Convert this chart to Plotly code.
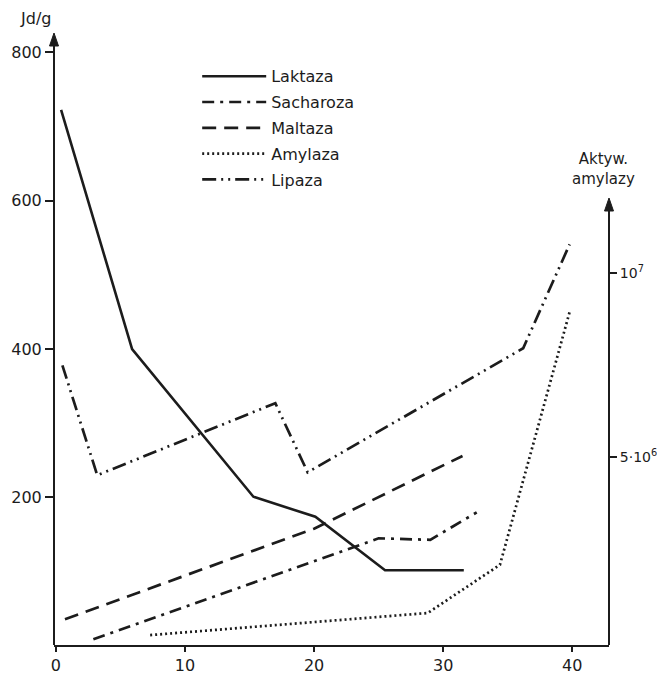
import plotly.graph_objects as go

# ---- data ----
lak_x = [0.4, 5.9, 15.3, 20.1, 25.5, 31.6]
lak_y = [722, 400, 201, 174, 102, 102]

sach_x = [2.9, 25.0, 29.0, 32.6]
sach_y = [9, 145, 143, 180]

malt_x = [0.7, 20.0, 31.5]
malt_y = [36, 158, 256]

amy_x = [7.3, 28.8, 34.4, 39.8]
amy_y = [0.16e6, 0.76e6, 2.07e6, 8.94e6]

lip_x = [0.5, 3.2, 17.0, 19.5, 36.2, 39.8]
lip_y = [378, 230, 327, 234, 401, 541]

x_ticks = [0, 10, 20, 30, 40]
y_ticks = [200, 400, 600, 800]
y2_ticks = [5e6, 1e7]
y2_labels = ["5·10<sup>6</sup>", "10<sup>7</sup>"]

INK = "#1c1c1c"
FONT = "DejaVu Sans"

fig = go.Figure()

def add(name, x, y, dash, width=2.5, axis="y"):
    fig.add_trace(go.Scatter(
        x=x, y=y, name=name, mode="lines", yaxis=axis,
        legendgroup=name,
        line=dict(color=INK, width=width, dash=dash),
    ))

add("Laktaza", lak_x, lak_y, "solid", 2.6)
add("Sacharoza", sach_x, sach_y, "12px,6px,3px,6px", 2.7)
add("Maltaza", malt_x, malt_y, "14px,8px", 2.7)
add("Amylaza", amy_x, amy_y, "2px,3px", 2.7, axis="y2")
add("Lipaza", lip_x, lip_y, "14px,5px,2px,5px,2px,5px", 2.7)

# the page body adds an 8px offset, so the figure is 8px smaller and margins shifted
fig.update_layout(
    width=657, height=666,
    margin=dict(l=46, r=56, t=25, b=29, autoexpand=False),
    paper_bgcolor="white", plot_bgcolor="white",
    font=dict(family=FONT, color=INK, size=16),
    showlegend=True,
    legend=dict(
        x=0.258, y=0.957, xanchor="left", yanchor="top",
        bgcolor="rgba(0,0,0,0)", borderwidth=0,
        font=dict(size=16, family=FONT, color=INK),
        tracegroupgap=2, itemwidth=64,
    ),
    xaxis=dict(
        range=[-0.15, 42.85], showgrid=False, zeroline=False, automargin=False,
        showline=True, linecolor=INK, linewidth=2,
        tickvals=x_ticks, ticks="outside", ticklen=5, tickwidth=1.5,
        tickcolor=INK, tickfont=dict(size=16, family=FONT, color=INK),
    ),
    yaxis=dict(
        range=[1.3, 825.7], showgrid=False, zeroline=False, automargin=False,
        showline=False,
        tickvals=y_ticks, ticks="outside", ticklen=8, tickwidth=1.5,
        tickcolor=INK, tickfont=dict(size=16, family=FONT, color=INK),
    ),
    yaxis2=dict(
        overlaying="y", side="right", anchor="x", automargin=False,
        range=[-1.09e5, 1.652e7], showgrid=False, zeroline=False,
        showline=False,
        tickvals=y2_ticks, ticktext=y2_labels,
        ticks="outside", ticklen=7, tickwidth=1.5, tickcolor=INK,
        tickfont=dict(size=14, family=FONT, color=INK),
    ),
)

# axis lines with arrowheads (paper coordinates)
PW, PH = 555.0, 612.0
def axis_arrow(xp, ytop):
    fig.add_shape(type="line", xref="paper", yref="paper",
                  x0=xp, x1=xp, y0=0, y1=ytop - 4 / PH,
                  line=dict(color=INK, width=2))
    hw, hh = 4.5 / PW, 13 / PH
    fig.add_shape(type="path", xref="paper", yref="paper",
                  path=f"M {xp - hw} {ytop - hh} L {xp} {ytop} L {xp + hw} {ytop - hh} Z",
                  fillcolor=INK, line=dict(color=INK, width=1))

axis_arrow(0.0, 1.0)
axis_arrow(1.0, (645 - 198) / PH)

# axis titles
fig.add_annotation(x=-0.033, y=(645 - 18) / PH, xref="paper", yref="paper", text="Jd/g",
                   showarrow=False, font=dict(size=16, family=FONT, color=INK),
                   xanchor="center", yanchor="middle")
fig.add_annotation(x=0.99, y=(645 - 190) / PH, xref="paper", yref="paper",
                   text="Aktyw.<br>amylazy",
                   showarrow=False, font=dict(size=15, family=FONT, color=INK),
                   xanchor="center", yanchor="bottom", align="center")

fig.write_html("out.html")
